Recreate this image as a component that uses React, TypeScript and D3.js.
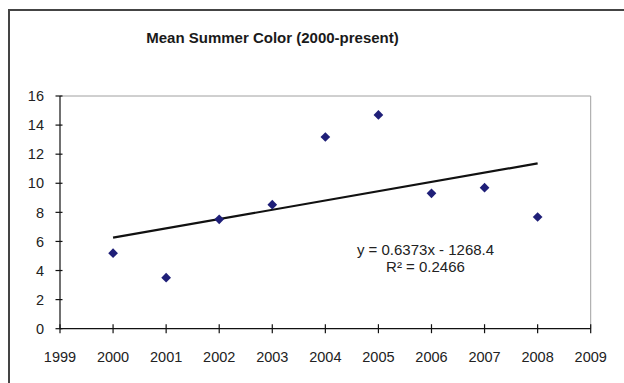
import React from "react";
import * as d3 from "d3";

const years = [2000, 2001, 2002, 2003, 2004, 2005, 2006, 2007, 2008];
const values = [5.19, 3.51, 7.52, 8.53, 13.18, 14.7, 9.31, 9.7, 7.68];
const xTicks = [1999, 2000, 2001, 2002, 2003, 2004, 2005, 2006, 2007, 2008, 2009];
const yTicks = [0, 2, 4, 6, 8, 10, 12, 14, 16];
const title = "Mean Summer Color (2000-present)";
const eqLine1 = "y = 0.6373x - 1268.4";
const eqLine2 = "R² = 0.2466";

export default function App() {
  const W = 624, H = 383;
  const x = d3.scaleLinear().domain([1999, 2009]).range([60, 590.7]);
  const y = d3.scaleLinear().domain([0, 16]).range([328.7, 96]);

  const mx = d3.mean(years)!;
  const my = d3.mean(values)!;
  let sxy = 0, sxx = 0;
  years.forEach((yr, i) => { sxy += (yr - mx) * (values[i] - my); sxx += (yr - mx) * (yr - mx); });
  const slope = sxy / sxx;
  const intercept = my - slope * mx;
  const x0 = d3.min(years)!, x1 = d3.max(years)!;
  const line = d3.line<[number, number]>().x(d => x(d[0])).y(d => y(d[1]));
  const trend = line([[x0, slope * x0 + intercept], [x1, slope * x1 + intercept]]);

  const font = "Arial, 'Liberation Sans', sans-serif";
  const diamond = d3.symbol().type(d3.symbolDiamond2).size(60)();

  return (
    <svg width={W} height={H} style={{ position: "absolute", left: 0, top: 0, background: "#fff" }} fontFamily={font}>
      <rect x={9} y={10} width={W + 10} height={H + 10} fill="#fff" stroke="#444" strokeWidth={2} />
      <text x={272.5} y={43} textAnchor="middle" fontSize={15} fontWeight="bold" fill="#1a1a1a">{title}</text>
      <path d={`M${x(1999)},${y(16)}H${x(2009)}V${y(0)}`} fill="none" stroke="#a0a0a0" strokeWidth={1} />
      <line x1={x(1999)} x2={x(1999)} y1={y(0)} y2={y(16)} stroke="#111" strokeWidth={1.2} />
      {yTicks.map(t => (
        <g key={t}>
          <line x1={x(1999) - 4.5} x2={x(1999) + 2.5} y1={y(t)} y2={y(t)} stroke="#111" strokeWidth={1.2} />
          <text x={44} y={y(t)} dy="0.36em" textAnchor="end" fontSize={14.5} fill="#222">{t}</text>
        </g>
      ))}
      <line x1={x(1999)} x2={x(2009)} y1={y(0)} y2={y(0)} stroke="#111" strokeWidth={1.2} />
      {xTicks.map(t => (
        <g key={t}>
          <line x1={x(t)} x2={x(t)} y1={y(0) - 4.5} y2={y(0) + 4.5} stroke="#111" strokeWidth={1.2} />
          <text x={x(t)} y={362} textAnchor="middle" fontSize={14.5} fill="#222">{t}</text>
        </g>
      ))}
      <path d={trend || ""} fill="none" stroke="#111" strokeWidth={2.2} />
      {years.map((yr, i) => (
        <path key={yr} d={diamond || ""} transform={`translate(${x(yr)},${y(values[i])})`} fill="#1f1f78" />
      ))}
      <text x={425.5} y={255} textAnchor="middle" fontSize={15} fill="#222">{eqLine1}</text>
      <text x={425.5} y={272} textAnchor="middle" fontSize={15} fill="#222">{eqLine2}</text>
    </svg>
  );
}
